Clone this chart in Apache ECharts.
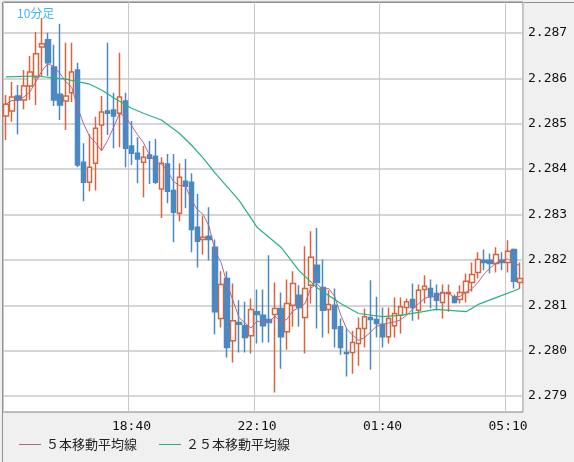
<!DOCTYPE html>
<html><head><meta charset="utf-8">
<script src="https://cdn.jsdelivr.net/npm/echarts@6/dist/echarts.min.js"></script>
<style>html,body{margin:0;padding:0;background:#f0f0f0}#c{width:574px;height:462px}</style>
</head><body><div id="c"></div>
<script>
const startTime = "15:10";
const opens  = [2.28517,2.28528,2.28561,2.28552,2.28583,2.28603,2.28669,2.28685,2.28625,2.28565,2.28550,2.28568,2.28618,2.28415,2.28371,2.28413,2.28497,2.28528,2.28530,2.28523,2.28550,2.28451,2.28435,2.28415,2.28431,2.28428,2.28356,2.28411,2.28353,2.28303,2.28373,2.28371,2.28272,2.28245,2.28252,2.28228,2.28071,2.28159,2.28022,2.28062,2.28055,2.28033,2.28086,2.28078,2.28069,2.28080,2.28093,2.28042,2.28100,2.28122,2.28073,2.28144,2.28188,2.28139,2.28091,2.28100,2.28053,2.27996,2.27996,2.28016,2.28049,2.28073,2.28069,2.28058,2.28031,2.28055,2.28078,2.28095,2.28113,2.28089,2.28135,2.28137,2.28126,2.28106,2.28126,2.28119,2.28113,2.28128,2.28150,2.28172,2.28199,2.28199,2.28192,2.28199,2.28194,2.28223,2.28150];
const closes = [2.28543,2.28559,2.28552,2.28583,2.28614,2.28654,2.28676,2.28634,2.28552,2.28541,2.28561,2.28614,2.28409,2.28371,2.28404,2.28490,2.28526,2.28523,2.28517,2.28559,2.28446,2.28435,2.28422,2.28426,2.28424,2.28371,2.28413,2.28351,2.28305,2.28382,2.28362,2.28267,2.28241,2.28250,2.28245,2.28086,2.28146,2.28007,2.28066,2.28058,2.28029,2.28091,2.28080,2.28055,2.28062,2.28093,2.28031,2.28104,2.28148,2.28095,2.28137,2.28206,2.28150,2.28089,2.28102,2.28049,2.28007,2.27994,2.28018,2.28049,2.28075,2.28069,2.28060,2.28031,2.28071,2.28082,2.28097,2.28108,2.28095,2.28133,2.28142,2.28119,2.28111,2.28128,2.28128,2.28106,2.28128,2.28153,2.28168,2.28201,2.28194,2.28192,2.28212,2.28194,2.28219,2.28153,2.28159];
const lows   = [2.28464,2.28504,2.28477,2.28532,2.28552,2.28541,2.28603,2.28605,2.28539,2.28508,2.28486,2.28548,2.28404,2.28329,2.28351,2.28353,2.28442,2.28475,2.28446,2.28448,2.28404,2.28409,2.28369,2.28338,2.28367,2.28367,2.28292,2.28325,2.28239,2.28285,2.28314,2.28217,2.28183,2.28212,2.28199,2.28036,2.28051,2.27985,2.27974,2.27996,2.27996,2.27994,2.28016,2.28018,2.28018,2.27908,2.27960,2.28002,2.28053,2.28053,2.27994,2.28104,2.28049,2.28029,2.28038,2.28007,2.27991,2.27943,2.27949,2.27967,2.28007,2.27958,2.28029,2.28007,2.28016,2.28029,2.28038,2.28080,2.28066,2.28069,2.28104,2.28093,2.28089,2.28071,2.28086,2.28104,2.28104,2.28106,2.28130,2.28159,2.28177,2.28170,2.28172,2.28177,2.28172,2.28137,2.28137];
const highs  = [2.28563,2.28592,2.28585,2.28618,2.28649,2.28702,2.28733,2.28700,2.28674,2.28720,2.28678,2.28678,2.28634,2.28457,2.28477,2.28515,2.28561,2.28678,2.28568,2.28656,2.28568,2.28506,2.28470,2.28451,2.28462,2.28466,2.28426,2.28433,2.28433,2.28413,2.28422,2.28391,2.28345,2.28296,2.28316,2.28245,2.28175,2.28175,2.28148,2.28111,2.28108,2.28115,2.28135,2.28135,2.28210,2.28150,2.28128,2.28157,2.28175,2.28144,2.28230,2.28263,2.28270,2.28201,2.28133,2.28137,2.28071,2.28049,2.28044,2.28073,2.28093,2.28155,2.28119,2.28095,2.28095,2.28117,2.28117,2.28115,2.28148,2.28146,2.28166,2.28157,2.28146,2.28146,2.28146,2.28124,2.28144,2.28170,2.28194,2.28217,2.28223,2.28214,2.28228,2.28217,2.28243,2.28225,2.28194];
// 25-bar moving average at selected bars
const ma25Idx = [0,5,10,14,16,18,21,23,26,29,31,33,35,39,42,46,49,52,56,59,63,66,72,77,79,82,86];
const ma25Val = [2.28603,2.28605,2.28598,2.28587,2.28574,2.28557,2.28534,2.28523,2.28508,2.28479,2.28453,2.28424,2.28391,2.28331,2.28272,2.28228,2.28177,2.28139,2.28104,2.28082,2.28075,2.28078,2.28091,2.28086,2.28102,2.28117,2.28137];
const yTicks = [2.279,2.280,2.281,2.282,2.283,2.284,2.285,2.286,2.287];
const legendNames = ["５本移動平均線","２５本移動平均線"];
const title = "10分足";

const n = opens.length;
const cats = [];
let [h0,m0] = startTime.split(':').map(Number); let t = h0*60+m0;
for (let i=0;i<n;i++){const tt=(t+i*10)%1440;cats.push(String(Math.floor(tt/60)).padStart(2,'0')+':'+String(tt%60).padStart(2,'0'));}
const kdata = opens.map((o,i)=>[o,closes[i],lows[i],highs[i]]);
const ma5 = closes.map((c,i)=>{const s=closes.slice(Math.max(0,i-4),i+1);return +(s.reduce((a,b)=>a+b,0)/s.length).toFixed(5);});
const ma25 = new Array(n).fill(null); ma25Idx.forEach((k,j)=>ma25[k]=ma25Val[j]);
const mono = "DejaVu Sans Mono";
const chart = echarts.init(document.getElementById('c'));
chart.setOption({
  backgroundColor:'#f0f0f0', animation:false,
  graphic:[{type:'rect',left:0,top:0,shape:{width:573,height:461},style:{fill:'none',stroke:'#909090',lineWidth:1},silent:true}],
  title:{text:title,left:12,top:2,textStyle:{color:'#3bb8f0',fontSize:12,fontWeight:'normal',fontFamily:'Noto Sans CJK JP'}},
  grid:{left:3,right:51,top:2,bottom:50,show:true,backgroundColor:'#fff',borderColor:'#808080',borderWidth:1},
  legend:{data:legendNames,left:14,bottom:6,icon:'rect',itemWidth:22,itemHeight:1,itemGap:22,
    textStyle:{fontFamily:'Noto Sans CJK JP',fontSize:13,color:'#222'}},
  xAxis:{type:'category',data:cats,boundaryGap:true,
    axisLine:{show:false},axisTick:{show:false,alignWithLabel:true,interval:(i)=>i%21===0},
    axisLabel:{interval:(i)=>i%21===0&&i>0,fontFamily:mono,fontSize:13,color:'#111',margin:8},
    splitLine:{show:true,interval:(i)=>i%21===0,lineStyle:{color:'#c8c8c8'}}},
  yAxis:{type:'value',position:'right',min:2.27865,max:2.28768,scale:true,
    axisLine:{show:false},axisTick:{show:false},axisLabel:{show:false},splitLine:{show:false}},
  series:[
    {type:'candlestick',data:kdata,barWidth:5,z:3,
     itemStyle:{color:'#ffffff',borderColor:'#d8643e',color0:'#4a89c1',borderColor0:'#4a89c1',borderWidth:1.5}},
    {name:legendNames[0],type:'line',data:ma5,symbol:'none',smooth:false,lineStyle:{color:'#b3668a',width:1},itemStyle:{color:'#b3668a'},z:5,
     markLine:{silent:true,symbol:'none',animation:false,z:1,
       lineStyle:{color:'#c8c8c8',type:'solid',width:1.5},
       label:{position:'end',distance:5,formatter:(p)=>yTicks[p.dataIndex].toFixed(3),fontFamily:mono,fontSize:13,color:'#111'},
       data:yTicks.map(v=>[{xAxis:0,yAxis:v,x:3},{xAxis:n-1,yAxis:v,x:523}])}},
    {name:legendNames[1],type:'line',data:ma25,connectNulls:true,symbol:'none',lineStyle:{color:'#2bb27a',width:1.2},itemStyle:{color:'#2bb27a'},z:5}
  ]
});
</script></body></html>
